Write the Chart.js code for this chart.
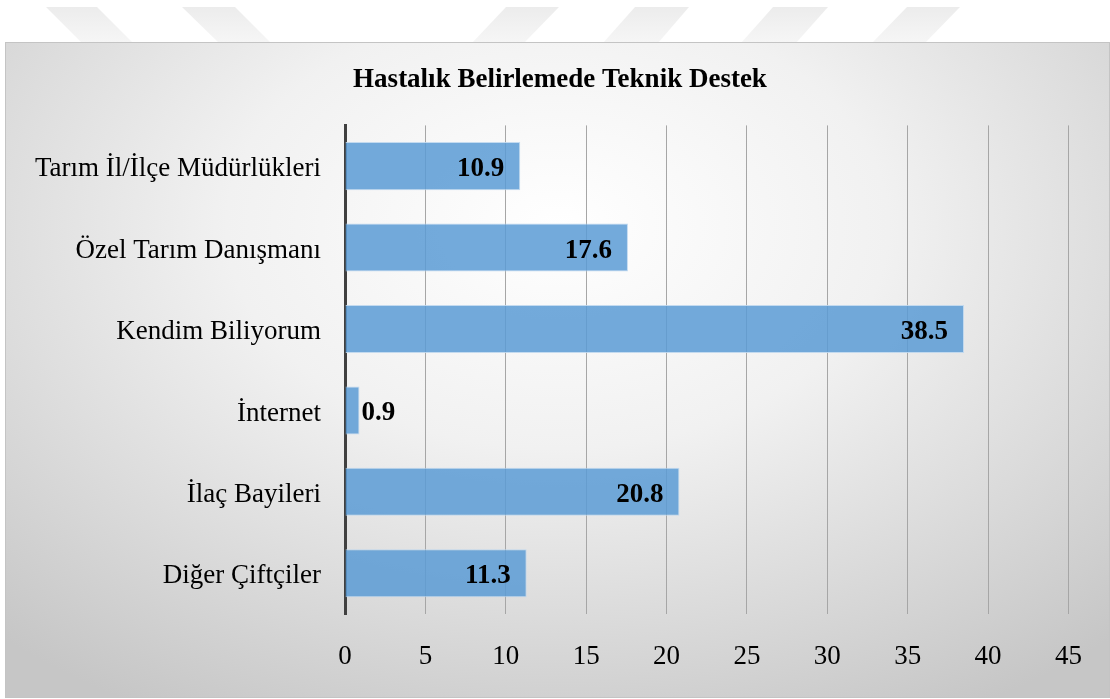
<!DOCTYPE html>
<html>
<head>
<meta charset="utf-8">
<script src="https://cdn.jsdelivr.net/npm/chart.js@4"></script>
<style>
  html, body { margin: 0; padding: 0; background: #fff; }
  body { width: 1110px; height: 699px; position: relative; overflow: hidden; }
  #marks { position: absolute; left: 0; top: 0; }
  #box {
    position: absolute; left: 5px; top: 42px; width: 1105px; height: 656px;
    box-sizing: border-box; border: 1px solid #c4c4c4;
    background: radial-gradient(ellipse 75% 85% at 50% 28%, #ffffff 0%, #f1f1f1 40%, #c6c6c6 100%);
  }
  #chart { display: block; }
</style>
</head>
<body>
<svg id="marks" width="1110" height="44">
  <defs>
    <linearGradient id="fade" x1="0" y1="0" x2="0" y2="1">
      <stop offset="0" stop-color="#ececec"/>
      <stop offset="1" stop-color="#f6f6f6"/>
    </linearGradient>
  </defs>
  <g fill="url(#fade)">
    <polygon points="46,7 97,7 133,43 82,43"/>
    <polygon points="182,7 235,7 271,43 219,43"/>
    <polygon points="506,7 559,7 524,43 472,43"/>
    <polygon points="635,7 689,7 658,43 603,43"/>
    <polygon points="773,7 828,7 796,43 741,43"/>
    <polygon points="907,7 960,7 925,43 872,43"/>
  </g>
</svg>
<div id="box"><canvas id="chart" width="1103" height="654"></canvas></div>
<script>
const categories = [
  "Tarım İl/İlçe Müdürlükleri",
  "Özel Tarım Danışmanı",
  "Kendim Biliyorum",
  "İnternet",
  "İlaç Bayileri",
  "Diğer Çiftçiler",
];
const values = [10.9, 17.6, 38.5, 0.9, 20.8, 11.3];
const xTicks = [0, 5, 10, 15, 20, 25, 30, 35, 40, 45];

const FONT = "'Liberation Serif', 'Times New Roman', serif";

// değer etiketleri: barın içinde sağda, sığmazsa dışarıda
const barLabels = {
  id: "barLabels",
  afterLayout(chart) {
    // başlığı tüm kutunun ortasına al
    chart.titleBlock.left = 5;
    chart.titleBlock.right = chart.width;
  },
  afterDatasetsDraw(chart) {
    const ctx = chart.ctx;
    const meta = chart.getDatasetMeta(0);
    ctx.save();
    ctx.font = `bold 27px ${FONT}`;
    ctx.fillStyle = "#000";
    ctx.textBaseline = "alphabetic";
    meta.data.forEach((bar, i) => {
      const txt = values[i].toFixed(1);
      const w = ctx.measureText(txt).width;
      if (bar.x - bar.base > w + 20) {
        ctx.textAlign = "right";
        ctx.fillText(txt, bar.x - 16, bar.y + 10);
      } else {
        ctx.textAlign = "left";
        ctx.fillText(txt, bar.x + 2, bar.y + 10);
      }
    });
    ctx.restore();
  },
};

new Chart(document.getElementById("chart"), {
  type: "bar",
  data: {
    labels: categories,
    datasets: [{
      data: values,
      backgroundColor: "rgba(91,155,213,0.85)",
      borderColor: "rgba(190,215,238,0.9)",
      borderWidth: 1,
      barPercentage: 0.59,
      categoryPercentage: 1,
    }],
  },
  options: {
    indexAxis: "y",
    responsive: false,
    animation: false,
    layout: { padding: { left: 0, right: 36, top: 0, bottom: 0 } },
    plugins: {
      legend: { display: false },
      tooltip: { enabled: false },
      title: {
        display: true,
        text: "Hastalık Belirlemede Teknik Destek",
        color: "#000",
        font: { family: FONT, size: 27, weight: "bold" },
        padding: { top: 21, bottom: 29 },
      },
    },
    scales: {
      x: {
        min: 0,
        max: 45,
        afterBuildTicks: (s) => { s.ticks = xTicks.map((v) => ({ value: v })); },
        afterFit: (s) => { s.height = 83; },
        grid: { color: "#a6a6a6", lineWidth: 1, drawTicks: false },
        border: { display: false },
        ticks: { color: "#000", padding: 27, font: { family: FONT, size: 27 } },
      },
      y: {
        afterFit: (s) => { s.width = 339; },
        grid: { display: false, drawTicks: false },
        border: { display: true, color: "#404040", width: 3 },
        ticks: { color: "#000", padding: 24, labelOffset: 3, font: { family: FONT, size: 27 } },
      },
    },
  },
  plugins: [barLabels],
});
</script>
</body>
</html>
